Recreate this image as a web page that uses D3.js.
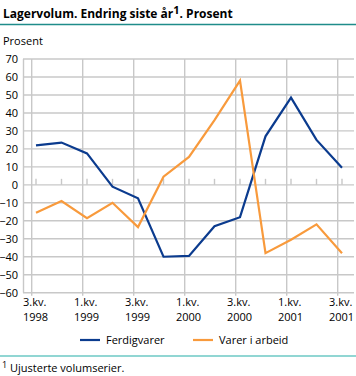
<!DOCTYPE html>
<html><head><meta charset="utf-8">
<script src="https://cdn.jsdelivr.net/npm/d3@7/dist/d3.min.js"></script>
<style>
body{margin:0;background:#fff;}
svg{display:block;font-family:"Open Sans",sans-serif;}
</style></head>
<body><svg id="c" width="356" height="376"></svg>
<script>
const quarters = ["3.kv. 1998","4.kv. 1998","1.kv. 1999","2.kv. 1999","3.kv. 1999","4.kv. 1999","1.kv. 2000","2.kv. 2000","3.kv. 2000","4.kv. 2000","1.kv. 2001","2.kv. 2001","3.kv. 2001"];
const ferdigvarer = [22, 23.5, 17.5, -1, -7.5, -40, -39.5, -23, -18, 27, 48.5, 25, 9.5];
const varerIArbeid = [-15.5, -9, -18.5, -10, -23.5, 4.5, 15.5, 36, 58, -38, -30.5, -22, -38];
const yTicks = [70,60,50,40,30,20,10,0,-10,-20,-30,-40,-50,-60];
const seriesNames = ["Ferdigvarer","Varer i arbeid"];
const colors = ["#0b3b8e","#f89a3c"];

const svg = d3.select("#c");
const x = d3.scalePoint().domain(d3.range(quarters.length)).range([36, 342]);
const y = d3.scaleLinear().domain([-60,70]).range([292.7, 59]);

// title
const t = svg.append("text").attr("x",3).attr("y",18).attr("font-size",12).attr("font-weight","bold").attr("fill","#000");
t.append("tspan").text("Lagervolum. Endring siste år");
t.append("tspan").text("1").attr("font-size",11).attr("dy",-4);
t.append("tspan").text(". Prosent").attr("dy",4);
svg.append("line").attr("x1",0).attr("x2",356).attr("y1",24.5).attr("y2",24.5).attr("stroke","#1f8c8a").attr("stroke-width",1.5);
svg.append("text").attr("x",3).attr("y",45).attr("font-size",11).text("Prosent");

// grid
const grid = svg.append("g").attr("stroke","#c8c8c8").attr("stroke-width",1.4);
yTicks.forEach(v=>{
  grid.append("line").attr("x1",23).attr("x2",354).attr("y1",y(v)).attr("y2",y(v));
});
d3.range(0,quarters.length,2).forEach(i=>{
  grid.append("line").attr("x1",x(i)-4.3).attr("x2",x(i)-4.3).attr("y1",y(70)).attr("y2",y(-60)+3);
});
grid.append("line").attr("x1",23.5).attr("x2",23.5).attr("y1",y(70)).attr("y2",y(-60));
// zero ticks
d3.range(quarters.length).forEach(i=>{
  grid.append("line").attr("x1",x(i)).attr("x2",x(i)).attr("y1",y(0)-6).attr("y2",y(0));
});

// y axis labels
const yAxis = svg.append("g").attr("transform","translate(18,0)")
  .call(d3.axisLeft(y).tickValues(yTicks).tickSize(0).tickPadding(0).tickFormat(d3.format("d")));
yAxis.select(".domain").remove();
yAxis.selectAll("text").attr("font-size",11).attr("font-family","\"Open Sans\",sans-serif").attr("fill","#000");

// x labels
d3.range(0,quarters.length,2).forEach(i=>{
  const parts = quarters[i].split(" ");
  const g = svg.append("text").attr("font-size",11).attr("fill","#000");
  g.append("tspan").attr("x",x(i)-13).attr("y",306).text(parts[0]);
  g.append("tspan").attr("x",x(i)-13).attr("y",321).text(parts[1]);
});

// lines
const line = d3.line().x((d,i)=>x(i)).y(d=>y(d));
[ferdigvarer, varerIArbeid].forEach((s,k)=>{
  svg.append("path").datum(s).attr("d",line).attr("fill","none").attr("stroke",colors[k]).attr("stroke-width",2.2).attr("stroke-linejoin","miter");
});

// legend
const legX = [80, 193];
seriesNames.forEach((n,k)=>{
  svg.append("line").attr("x1",legX[k]).attr("x2",legX[k]+20).attr("y1",340).attr("y2",340).attr("stroke",colors[k]).attr("stroke-width",2.2);
  svg.append("text").attr("x",legX[k]+26).attr("y",344).attr("font-size",11).text(n);
});

svg.append("line").attr("x1",0).attr("x2",356).attr("y1",356).attr("y2",356).attr("stroke","#6cc9c5").attr("stroke-width",1.5);
const f = svg.append("text").attr("x",2).attr("y",372).attr("font-size",11);
f.append("tspan").text("1").attr("font-size",9).attr("dy",-4);
f.append("tspan").text(" Ujusterte volumserier.").attr("dy",4);
</script></body></html>
